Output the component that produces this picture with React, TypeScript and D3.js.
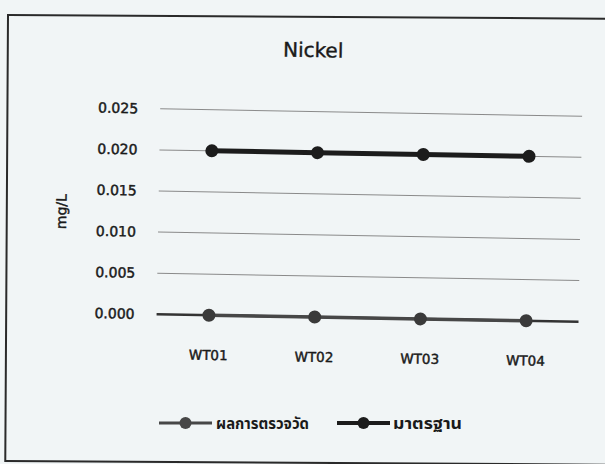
import { useEffect, useRef } from 'react'
import * as d3 from 'd3'

const W = 605, H = 464
const sites = ['WT01', 'WT02', 'WT03', 'WT04']
const measured = [0, 0, 0, 0]
const standard = [0.02, 0.02, 0.02, 0.02]
const yTicks = [0, 0.005, 0.01, 0.015, 0.02, 0.025]
const legendNames = ['ผลการตรวจวัด', 'มาตรฐาน']

const FONT = "'DejaVu Sans', Tahoma, sans-serif"
const INK = '#1a1a1a'

export default function App() {
  const svgRef = useRef<SVGSVGElement>(null)

  useEffect(() => {
    document.body.style.margin = '0'
    const svg = d3.select(svgRef.current)
    svg.selectAll('*').remove()

    svg.append('rect').attr('width', W).attr('height', H).attr('fill', '#f1f5f6')

    // frame (scanned, slightly tilted), right edge is off the page
    svg.append('rect').attr('x', 8).attr('y', 15).attr('width', 900).attr('height', 446)
      .attr('transform', 'rotate(0.35, 8, 15)')
      .attr('fill', 'none').attr('stroke', '#2a2a2a').attr('stroke-width', 2)

    // plot content is tilted a bit more
    const g = svg.append('g').attr('transform', 'rotate(1, 370, 235)')
      .attr('stroke-linejoin', 'round')

    const x = d3.scaleBand<string>().domain(sites).range([157.5, 580.5])
    const y = d3.scaleLinear().domain([0, 0.025]).range([318, 112.5])
    const cx = (d: string) => (x(d) ?? 0) + x.bandwidth() / 2

    // text is a bit heavy on the scan -> thin stroke on top of fill
    const heavy = (sel: any, w = 0.45) => sel.attr('stroke', INK).attr('stroke-width', w)

    g.append('text').attr('x', 310).attr('y', 51).attr('dy', '0.35em').attr('text-anchor', 'middle')
      .attr('font-family', FONT).attr('font-size', 20).attr('fill', INK).text('Nickel')
      .call(heavy, 0.4)

    // grid
    g.selectAll('line.grid').data(yTicks.filter(t => t > 0)).join('line')
      .attr('x1', 158).attr('x2', 580).attr('y1', d => y(d)).attr('y2', d => y(d))
      .attr('stroke', '#8a8a8a').attr('stroke-width', 1)
    g.append('line').attr('x1', 158).attr('x2', 580).attr('y1', y(0)).attr('y2', y(0))
      .attr('stroke', '#333').attr('stroke-width', 2.5)

    g.selectAll('text.yt').data(yTicks).join('text')
      .attr('x', 136).attr('y', d => y(d)).attr('dy', '0.35em').attr('text-anchor', 'end')
      .attr('font-family', FONT).attr('font-size', 14).attr('fill', INK)
      .text(d => d3.format('.3f')(d))
      .call(heavy)

    g.append('text').attr('transform', 'translate(61, 217) rotate(-90)')
      .attr('text-anchor', 'middle').attr('dy', '0.35em').attr('font-family', FONT).attr('font-size', 14)
      .attr('fill', INK).text('mg/L')
      .call(heavy)

    g.selectAll('text.xt').data(sites).join('text')
      .attr('x', d => cx(d)).attr('y', 358).attr('dy', '0.35em').attr('text-anchor', 'middle')
      .attr('font-family', FONT).attr('font-size', 13.5).attr('fill', INK).text(d => d)
      .call(heavy)

    const line = d3.line<number>().x((_, i) => cx(sites[i])).y(d => y(d))

    // standard
    g.append('path').attr('d', line(standard)).attr('fill', 'none')
      .attr('stroke', '#1c1c1c').attr('stroke-width', 5)
    g.selectAll('circle.std').data(standard).join('circle')
      .attr('cx', (_, i) => cx(sites[i])).attr('cy', d => y(d)).attr('r', 6.5).attr('fill', '#1c1c1c')

    // measured
    g.append('path').attr('d', line(measured)).attr('fill', 'none')
      .attr('stroke', '#474747').attr('stroke-width', 3.5)
    g.selectAll('circle.mes').data(measured).join('circle')
      .attr('cx', (_, i) => cx(sites[i])).attr('cy', d => y(d)).attr('r', 6.5).attr('fill', '#3a3a3a')

    // legend (drawn level)
    const leg = [
      { x0: 159, x1: 212, tx: 216, len: 93, color: '#474747', w: 3 },
      { x0: 337, x1: 390, tx: 393, len: 69, color: '#1c1c1c', w: 4 },
    ]
    leg.forEach((l, i) => {
      const ly = 423
      svg.append('line').attr('x1', l.x0).attr('x2', l.x1).attr('y1', ly).attr('y2', ly)
        .attr('stroke', l.color).attr('stroke-width', l.w)
      svg.append('circle').attr('cx', (l.x0 + l.x1) / 2).attr('cy', ly).attr('r', 6).attr('fill', l.color)
      svg.append('text').attr('x', l.tx).attr('y', ly).attr('dy', '0.35em')
        .attr('font-family', "Tahoma, 'Noto Sans Thai', sans-serif").attr('font-size', 16)
        .attr('font-weight', 'bold').attr('textLength', l.len).attr('lengthAdjust', 'spacingAndGlyphs')
        .attr('fill', INK).text(legendNames[i])
    })
  }, [])

  return <svg ref={svgRef} width={W} height={H} style={{ display: 'block' }} />
}
